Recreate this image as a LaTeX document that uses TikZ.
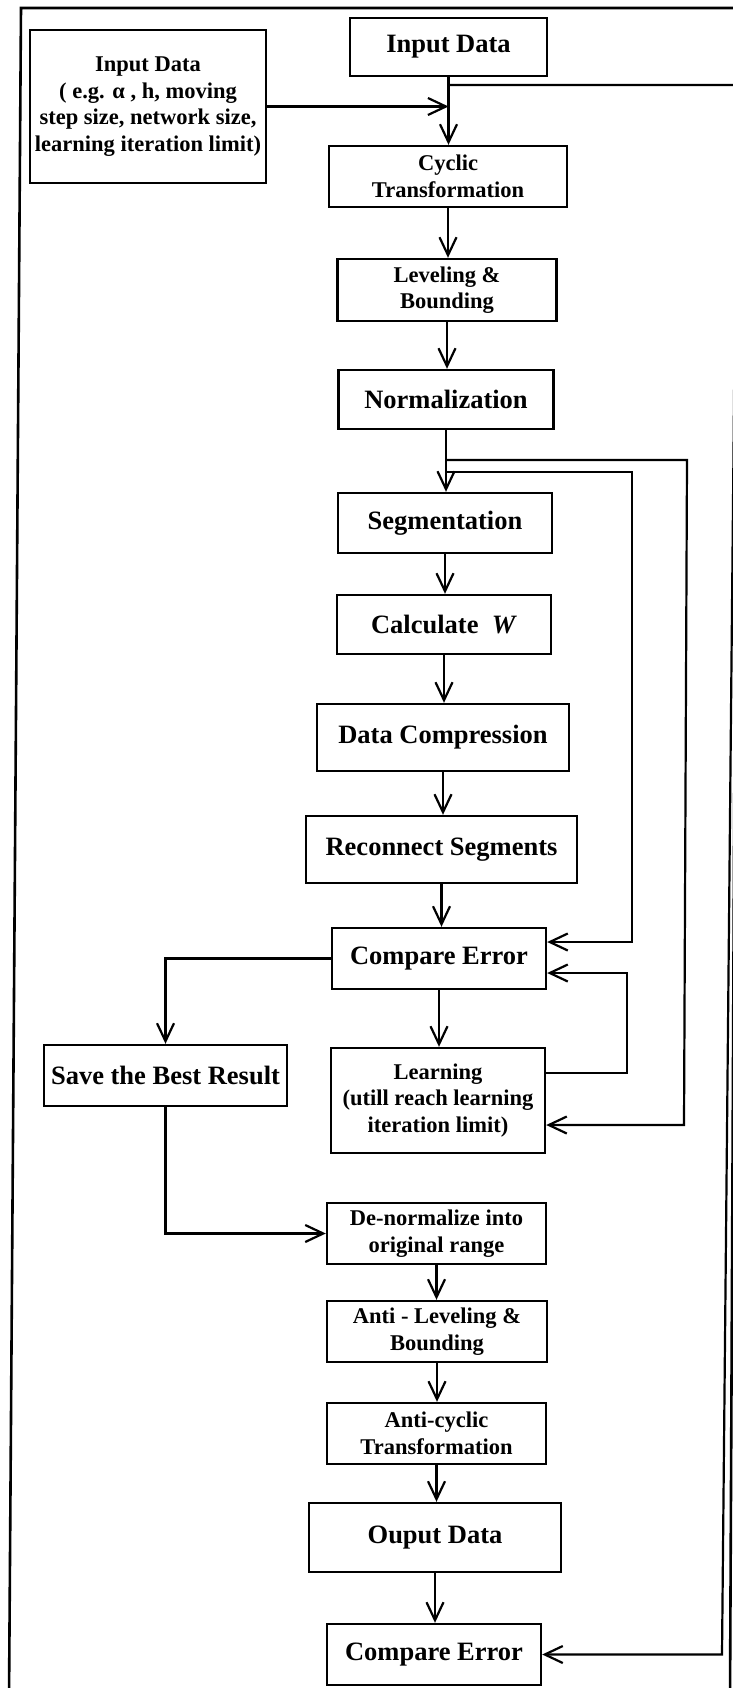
\documentclass[tikz,border=0pt]{standalone}
\usepackage{fontspec}
\setmainfont{Liberation Serif}
\usetikzlibrary{arrows.meta,calc}

\tikzset{
  box/.style={draw, line width=2.4pt, inner sep=0pt, align=center},
  onel/.style={box, font=\fontsize{26.5}{29}\selectfont\bfseries},
  twol/.style={box, font=\fontsize{22.5}{26.5}\selectfont\bfseries},
  link/.style={line width=2.2pt},
  arr/.style={link, -{Straight Barb[length=18pt,width=17pt]}},
  frame/.style={line width=2.6pt}
}

\begin{document}
\begin{tikzpicture}[x=1pt, y=-1pt]
  \useasboundingbox (0,0) rectangle (732,1688);

  % outer frame (open at the bottom)
  \draw[frame] (9,1700) -- (21,8) -- (738,8) -- (730,1700);

  % process boxes
  \node[twol, minimum width=236pt, minimum height=153pt] (params) at (148,106.5)
    {Input Data\\( e.g. α , h, moving\\step size, network size,\\learning iteration limit)};
  \node[onel, minimum width=197pt, minimum height=58pt] (input) at (448.5,47) {Input Data};
  \node[twol, minimum width=238pt, minimum height=61pt] (cyclic) at (448,176.5) {Cyclic\\Transformation};
  \node[twol, minimum width=219pt, minimum height=62pt] (level) at (447,290) {Leveling \&\\Bounding};
  \node[onel, minimum width=215pt, minimum height=59pt] (norm) at (446,399.5) {Normalization};
  \node[onel, minimum width=214pt, minimum height=60pt] (seg) at (445,523) {Segmentation};
  \node[onel, minimum width=214pt, minimum height=59pt] (calcw) at (444,624.5) {Calculate~~\textit{W}};
  \node[onel, minimum width=252pt, minimum height=67pt] (comp) at (443,737.5) {Data Compression};
  \node[onel, minimum width=271pt, minimum height=67pt] (recon) at (441.5,849.5) {Reconnect Segments};
  \node[onel, minimum width=214pt, minimum height=61pt] (cmp) at (439,958.5) {Compare Error};
  \node[onel, minimum width=243pt, minimum height=61pt] (save) at (165.5,1075.5) {Save the Best Result};
  \node[twol, minimum width=214pt, minimum height=105pt] (learn) at (438,1100.5)
    {Learning\\(utill reach learning\\iteration limit)};
  \node[twol, minimum width=219pt, minimum height=61pt] (denorm) at (436.5,1233.5) {De-normalize into\\original range};
  \node[twol, minimum width=220pt, minimum height=61pt] (antilev) at (437,1331.5) {Anti - Leveling \&\\Bounding};
  \node[twol, minimum width=219pt, minimum height=61pt] (anticyc) at (436.5,1433.5) {Anti-cyclic\\Transformation};
  \node[onel, minimum width=252pt, minimum height=69pt] (output) at (435,1537.5) {Ouput Data};
  \node[onel, minimum width=214pt, minimum height=61pt] (cmpout) at (434,1654.5) {Compare Error};

  % branch points and corners of the feedback lines
  \coordinate (fbtop) at (input.south |- 0,85);
  \coordinate (fbcorner) at (737,85);
  \coordinate (fbbottom) at (722,1654.5);
  \coordinate (nb1) at (norm.south |- 0,460);
  \coordinate (nb1c) at (687,460);
  \coordinate (nb1b) at (684,1125);
  \coordinate (nb2) at (norm.south |- 0,472);
  \coordinate (nb2c) at (632,472);
  \coordinate (lpx) at (627,0);

  % main flow
  \draw[arr] (input.south) -- (input.south |- cyclic.north);
  \draw[arr] (params.east) -- (params.east -| input.south);
  \draw[arr] (cyclic.south) -- (cyclic.south |- level.north);
  \draw[arr] (level.south) -- (level.south |- norm.north);
  \draw[arr] (norm.south) -- (norm.south |- seg.north);
  \draw[arr] (seg.south) -- (seg.south |- calcw.north);
  \draw[arr] (calcw.south) -- (calcw.south |- comp.north);
  \draw[arr] (comp.south) -- (comp.south |- recon.north);
  \draw[arr] (recon.south) -- (recon.south |- cmp.north);
  \draw[arr] (cmp.south) -- (cmp.south |- learn.north);
  \draw[arr] (cmp.west) -| (save.north);
  \draw[arr] (save.south) |- (denorm.west);
  \draw[arr] (denorm.south) -- (denorm.south |- antilev.north);
  \draw[arr] (antilev.south) -- (antilev.south |- anticyc.north);
  \draw[arr] (anticyc.south) -- (anticyc.south |- output.north);
  \draw[arr] (output.south) -- (output.south |- cmpout.north);

  % feedback lines on the right
  \draw[arr] (fbtop) -- (fbcorner) -- (fbbottom) -- (cmpout.east);
  \draw[arr] (nb1) -- (nb1c) -- (nb1b) -- ($(learn.east)+(0,24.5)$);
  \draw[arr] (nb2) -- (nb2c) |- ($(cmp.east)+(0,-16.5)$);
  \draw[arr] ($(learn.east)+(0,-27.5)$) -| (lpx |- 0,973) -- ($(cmp.east)+(0,14.5)$);
\end{tikzpicture}
\end{document}
